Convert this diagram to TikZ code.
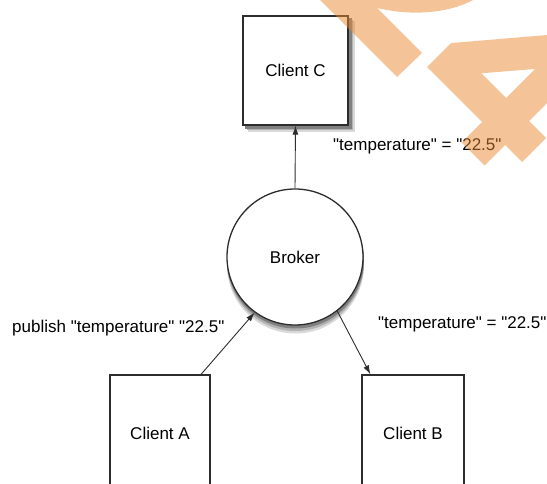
\documentclass[tikz,border=0pt]{standalone}
\usepackage{fontspec}
\setmainfont{Liberation Sans}[Ligatures=TeXOff]
\usetikzlibrary{arrows.meta}
\definecolor{wmorange}{RGB}{233,137,49}
\definecolor{edgegray}{RGB}{45,45,45}
\pgfdeclarelayer{background}
\pgfsetlayers{background,main}

\begin{document}
\begin{tikzpicture}[x=1pt,y=-1pt,font=\fontsize{17}{20}\selectfont,
  client/.style={draw=edgegray,line width=1.3pt,fill=white,inner sep=0pt},
  broker/.style={circle,draw=edgegray,line width=1.3pt,fill=white,inner sep=0pt,minimum size=136pt},
  msg/.style={inner sep=0pt,anchor=west},
  link/.style={-{Latex[length=9pt,width=6pt]},line width=0.9pt,edgegray}]
  \useasboundingbox (0,0) rectangle (547,484);

  \node[client,minimum width=105pt,minimum height=109pt] (clientC) at (295.5,70.5) {Client C};
  \node[broker] (broker) at (295,257) {Broker};
  \node[client,minimum width=100pt,minimum height=116pt] (clientA) at (160,433) {Client A};
  \node[client,minimum width=102pt,minimum height=116pt] (clientB) at (413,433) {Client B};

  % soft shadows behind Client C and the broker
  \begin{pgfonlayer}{background}
    \fill[black!15] ([shift={(6,6)}]clientC.south west) rectangle ([shift={(6,6)}]clientC.north east);
    \fill[black!30] ([shift={(4.5,4.5)}]clientC.south west) rectangle ([shift={(4.5,4.5)}]clientC.north east);
    \fill[black!50] ([shift={(3,3)}]clientC.south west) rectangle ([shift={(3,3)}]clientC.north east);
    \fill[black!15] ([shift={(0.5,8)}]broker.center) circle (68.5);
    \fill[black!30] ([shift={(0.5,5.5)}]broker.center) circle (68.5);
    \fill[black!50] ([shift={(0.5,3)}]broker.center) circle (68.5);
  \end{pgfonlayer}

  \draw[link] (broker.north) -- (clientC.south);
  \draw[link] (clientA.55) -- (broker.234);
  \draw[link] (broker.308) -- (clientB.126);

  \node[msg] (msgC) at (333,146) {"temperature" = "22.5"};
  \node[msg] (msgA) at (12,328) {publish "temperature" "22.5"};
  \node[msg] (msgB) at (378,324) {"temperature" = "22.5"};

  % watermark strokes
  \begin{scope}
    \clip (0,0) rectangle (547,484);
    \fill[wmorange,fill opacity=0.5]
      (320,0) -- (397,77) -- (422,53) -- (377,8) .. controls (420,18) and (455,10) .. (473,0) -- cycle
      (452,43) -- (547,35) -- (547,68) -- (460,75) -- cycle
      (427,67) -- (451,43) -- (546,138) -- (522,162) -- cycle
      (461.5,142.5) -- (552,52) -- (575,75) -- (484.5,165.5) -- cycle;
  \end{scope}
\end{tikzpicture}
\end{document}
